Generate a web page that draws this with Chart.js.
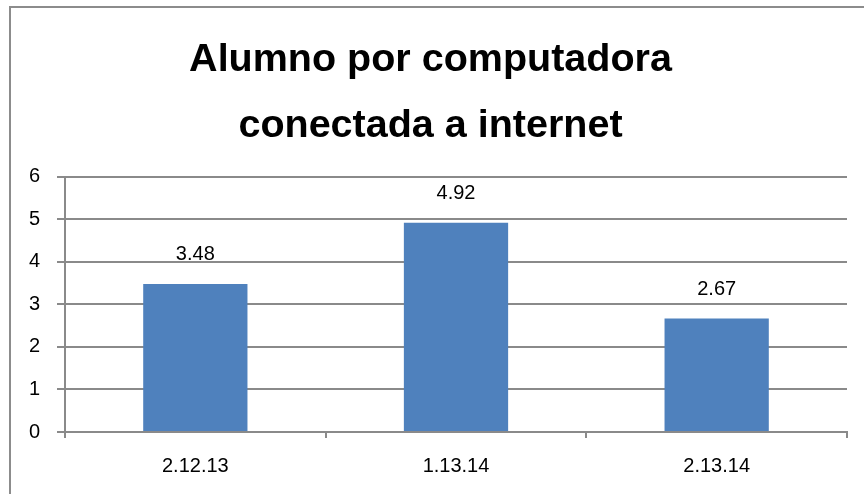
<!DOCTYPE html>
<html>
<head>
<meta charset="utf-8">
<script src="https://cdn.jsdelivr.net/npm/chart.js@4"></script>
<style>
  html, body { margin: 0; padding: 0; background: #fff; }
  #wrap { position: relative; width: 864px; height: 494px; overflow: hidden; }
  #frame { position: absolute; left: 9px; top: 6px; width: 900px; height: 600px;
           border: 2px solid #8c8c8c; box-sizing: border-box; pointer-events: none; }
  canvas { position: absolute; left: 0; top: 0; }
</style>
</head>
<body>
<div id="wrap">
  <canvas id="chart" width="864" height="494"></canvas>
  <div id="frame"></div>
</div>
<script>
// ── Data ──────────────────────────────────────────────────────
const categories = ['2.12.13', '1.13.14', '2.13.14'];
const values     = [3.48, 4.92, 2.67];
const titleLines = ['Alumno por computadora', 'conectada a internet'];

const FONT = "'Liberation Sans', Arial, sans-serif";
const GRID = '#8a8a8a';

// ── Value labels above bars ───────────────────────────────────
const valueLabels = {
  id: 'valueLabels',
  afterDatasetsDraw(chart) {
    const ctx = chart.ctx;
    const meta = chart.getDatasetMeta(0);
    ctx.save();
    ctx.font = '20px ' + FONT;
    ctx.fillStyle = '#000';
    ctx.textAlign = 'center';
    ctx.textBaseline = 'middle';
    meta.data.forEach((bar, i) => {
      ctx.fillText(values[i].toFixed(2), bar.x, bar.y - 29);
    });
    ctx.restore();
  }
};

new Chart(document.getElementById('chart'), {
  type: 'bar',
  data: {
    labels: categories,
    datasets: [{
      data: values,
      backgroundColor: '#4f81bd',
      barPercentage: 0.4,
      categoryPercentage: 1
    }]
  },
  options: {
    responsive: false,
    animation: false,
    layout: { padding: { left: 14, right: 17, top: 0, bottom: 0 } },
    plugins: {
      legend: { display: false },
      tooltip: { enabled: false },
      title: {
        display: true,
        text: titleLines,
        color: '#000',
        font: { family: FONT, size: 39.5, weight: 'bold', lineHeight: 1.68 },
        padding: { top: 27, bottom: 17 }
      }
    },
    scales: {
      x: {
        offset: true,
        grid: { offset: true, drawOnChartArea: false, drawTicks: true, tickLength: 6, color: GRID, lineWidth: 2 },
        border: { color: GRID, width: 2 },
        ticks: { color: '#000', font: { family: FONT, size: 20 }, padding: 16 },
        afterFit(scale) { scale.height = 62; }
      },
      y: {
        min: 0,
        max: 6,
        ticks: { stepSize: 1, color: '#000', font: { family: FONT, size: 20 }, padding: 17 },
        grid: { color: GRID, lineWidth: 2, tickLength: 8 },
        border: { color: GRID, width: 2 },
        afterFit(scale) { scale.width = 51; }
      }
    }
  },
  plugins: [valueLabels]
});
</script>
</body>
</html>
